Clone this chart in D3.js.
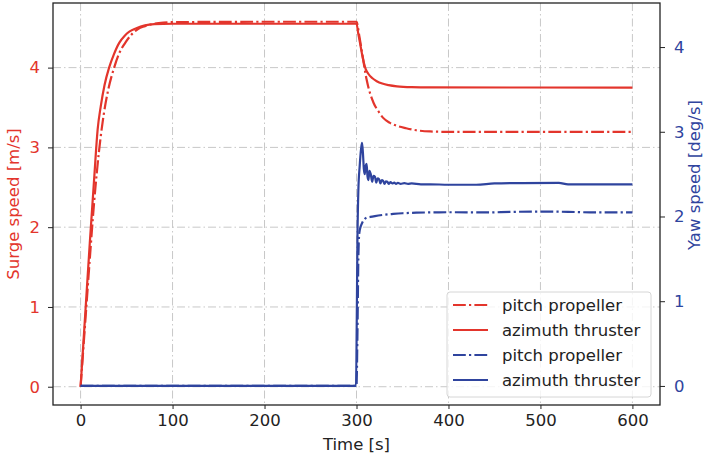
<!DOCTYPE html>
<html>
<head>
<meta charset="utf-8">
<script src="https://d3js.org/d3.v7.min.js"></script>
<style>
  body { margin: 0; background: #fff; }
  text { font-family: "DejaVu Sans", sans-serif; }
</style>
</head>
<body>
<div id="chart"></div>
<script>
// surge speed [m/s], pitch propeller (dash-dot) and azimuth thruster (solid)
var surgePitchT = [0, 5, 10, 15, 20, 25, 30, 36.5, 42, 48.5, 55, 62, 70, 80, 90, 100, 200, 300,
                   303, 306, 311, 318.5, 324, 329, 336, 344, 354, 365, 380, 400, 600];
var surgePitchV = [0, 0.8, 1.6, 2.35, 2.95, 3.4, 3.72, 4.0, 4.18, 4.31, 4.41, 4.48, 4.52, 4.55, 4.565, 4.57, 4.575, 4.575,
                   4.4, 4.19, 3.85, 3.56, 3.45, 3.37, 3.31, 3.27, 3.24, 3.215, 3.2, 3.195, 3.195];
var surgeAziT = [0, 5, 10, 15, 18.5, 22, 26, 31, 36, 42, 48, 53, 60, 70, 80, 100, 200, 300,
                 302, 304, 306, 308, 310, 313, 317, 322, 328, 335, 344, 360, 380, 600];
var surgeAziV = [0, 0.9, 1.8, 2.65, 3.22, 3.52, 3.78, 4.0, 4.16, 4.31, 4.40, 4.45, 4.49, 4.53, 4.545, 4.55, 4.55, 4.55,
                 4.42, 4.3, 4.17, 4.06, 3.98, 3.92, 3.87, 3.83, 3.8, 3.78, 3.765, 3.755, 3.752, 3.75];

// yaw speed [deg/s]
var yawPitchT = [0, 300, 301, 302, 303, 304.5, 306, 308, 311, 315, 320, 330, 340, 350, 365, 380, 400, 440, 470, 500, 530, 560, 600];
var yawPitchV = [0, 0, 0.6, 1.5, 1.8, 1.88, 1.92, 1.96, 1.985, 1.995, 2.005, 2.02, 2.03, 2.038, 2.045, 2.048, 2.05, 2.048, 2.055, 2.058, 2.055, 2.048, 2.048];
var yawAziT = [0, 299.5, 300.3, 301, 302, 303.5, 305, 306, 307, 308, 309, 310, 311, 312, 313, 314, 315.5, 317, 318.5, 320,
               321.5, 323, 324.5, 326, 327.5, 329, 330.5, 332, 333.5, 335, 337, 339, 341, 343, 345, 348, 352, 356, 360,
               370, 380, 400, 430, 450, 480, 520, 530, 560, 600];
var yawAziV = [0, 0, 0.8, 1.7, 2.3, 2.6, 2.8, 2.87, 2.75, 2.56, 2.5, 2.6, 2.62, 2.47, 2.43, 2.54, 2.5, 2.41, 2.48, 2.47,
               2.4, 2.45, 2.44, 2.39, 2.43, 2.42, 2.385, 2.415, 2.41, 2.385, 2.405, 2.39, 2.40, 2.385, 2.398, 2.385, 2.393, 2.385, 2.39,
               2.38, 2.38, 2.375, 2.375, 2.39, 2.395, 2.397, 2.38, 2.38, 2.38];

var xTicks = [0, 100, 200, 300, 400, 500, 600];
var leftTicks = [0, 1, 2, 3, 4];
var rightTicks = [0, 1, 2, 3, 4];
var legendLabels = ["pitch propeller", "azimuth thruster", "pitch propeller", "azimuth thruster"];

var RED = "#e3352c", BLUE = "#2f449e";
var FS = 16.5;
var W = 705, H = 461;
var m = {left: 53, right: 45, top: 3, bottom: 56};

var svg = d3.select("#chart").append("svg").attr("width", W).attr("height", H);

var x = d3.scaleLinear().domain([-30, 630]).range([m.left, W - m.right]);
var yL = d3.scaleLinear().domain([-0.229, 4.81]).range([H - m.bottom, m.top]);
var yR = d3.scaleLinear().domain([-0.225, 4.52]).range([H - m.bottom, m.top]);

var zip = function(t, v) { return t.map(function(d, i) { return [d, v[i]]; }); };

// grid
var grid = svg.append("g").attr("stroke", "#c8c8c8").attr("stroke-width", 1).attr("stroke-dasharray", "8,3,1.5,3");
grid.selectAll(".gx").data(xTicks).enter().append("line")
  .attr("x1", d => x(d)).attr("x2", d => x(d)).attr("y1", m.top).attr("y2", H - m.bottom);
grid.selectAll(".gy").data(leftTicks).enter().append("line")
  .attr("x1", m.left).attr("x2", W - m.right).attr("y1", d => yL(d)).attr("y2", d => yL(d));

var dashdot = "12.8,3.2,2.2,3.2";
var series = [
  {t: surgePitchT, v: surgePitchV, y: yL, color: RED, dash: dashdot},
  {t: surgeAziT, v: surgeAziV, y: yL, color: RED, dash: null},
  {t: yawPitchT, v: yawPitchV, y: yR, color: BLUE, dash: dashdot},
  {t: yawAziT, v: yawAziV, y: yR, color: BLUE, dash: null}
];

series.forEach(function(s) {
  var line = d3.line().x(d => x(d[0])).y(d => s.y(d[1])).curve(d3.curveMonotoneX);
  svg.append("path")
    .attr("d", line(zip(s.t, s.v)))
    .attr("fill", "none")
    .attr("stroke", s.color)
    .attr("stroke-width", 2.2)
    .attr("stroke-dasharray", s.dash);
});

// axes
var fmt = d3.format("d");
var xAxis = svg.append("g").attr("transform", "translate(0," + (H - m.bottom) + ")")
  .call(d3.axisBottom(x).tickValues(xTicks).tickFormat(fmt).tickSize(4).tickPadding(5));
var lAxis = svg.append("g").attr("transform", "translate(" + m.left + ",0)")
  .call(d3.axisLeft(yL).tickValues(leftTicks).tickFormat(fmt).tickSize(5).tickPadding(8));
var rAxis = svg.append("g").attr("transform", "translate(" + (W - m.right) + ",0)")
  .call(d3.axisRight(yR).tickValues(rightTicks).tickFormat(fmt).tickSize(5).tickPadding(9));

[xAxis, lAxis, rAxis].forEach(function(a) {
  a.select(".domain").remove();
  a.selectAll("text").attr("font-size", FS).attr("font-family", "DejaVu Sans, sans-serif");
  a.selectAll("line").attr("stroke", "#222").attr("stroke-width", 1);
});
xAxis.selectAll("text").attr("fill", "#222");
lAxis.selectAll("text").attr("fill", RED);
rAxis.selectAll("text").attr("fill", BLUE);

// frame
svg.append("rect")
  .attr("x", m.left).attr("y", m.top)
  .attr("width", W - m.left - m.right).attr("height", H - m.top - m.bottom)
  .attr("fill", "none").attr("stroke", "#222").attr("stroke-width", 1.3);

// axis labels
svg.append("text").attr("x", (m.left + W - m.right) / 2).attr("y", 450)
  .attr("text-anchor", "middle").attr("font-size", FS).attr("fill", "#222").text("Time [s]");
svg.append("text").attr("transform", "translate(19," + ((m.top + H - m.bottom) / 2) + ") rotate(-90)")
  .attr("text-anchor", "middle").attr("font-size", FS).attr("fill", RED).text("Surge speed [m/s]");
svg.append("text").attr("transform", "translate(700,175) rotate(-90)")
  .attr("text-anchor", "middle").attr("font-size", FS).attr("fill", BLUE).text("Yaw speed [deg/s]");

// legend
var lg = svg.append("g").attr("transform", "translate(447,292)");
lg.append("rect").attr("width", 204).attr("height", 105).attr("rx", 3)
  .attr("fill", "#fff").attr("fill-opacity", 0.8).attr("stroke", "#d6d6d6");
series.forEach(function(s, i) {
  var yy = 13 + i * 25;
  lg.append("line").attr("x1", 6).attr("x2", 41).attr("y1", yy).attr("y2", yy)
    .attr("stroke", s.color).attr("stroke-width", 2.2).attr("stroke-dasharray", s.dash);
  lg.append("text").attr("x", 55).attr("y", yy + 6).attr("font-size", FS).attr("fill", "#222").text(legendLabels[i]);
});
</script>
</body>
</html>
